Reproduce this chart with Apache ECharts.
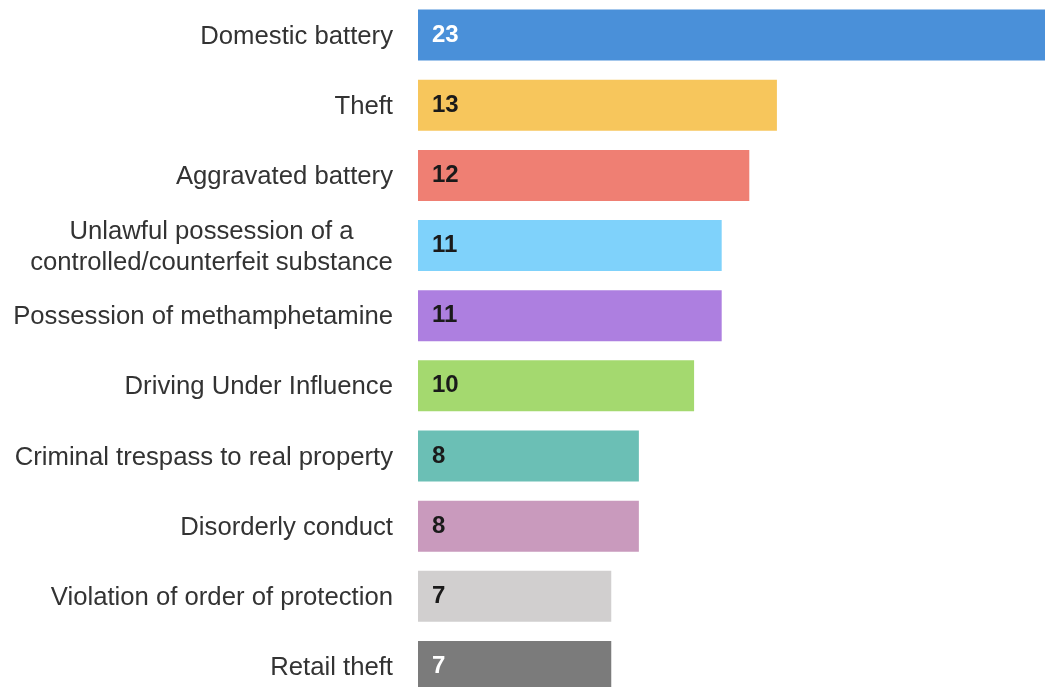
<!DOCTYPE html>
<html>
<head>
<meta charset="utf-8">
<script src="https://cdn.jsdelivr.net/npm/echarts@6/dist/echarts.min.js"></script>
<style>
html,body{margin:0;padding:0;background:#fff;}
#chart{width:1045px;height:687px;}
</style>
</head>
<body>
<div id="chart"></div>
<script>
const categories = [
  "Domestic battery",
  "Theft",
  "Aggravated battery",
  "Unlawful possession of a\ncontrolled/counterfeit substance",
  "Possession of methamphetamine",
  "Driving Under Influence",
  "Criminal trespass to real property",
  "Disorderly conduct",
  "Violation of order of protection",
  "Retail theft"
];
const values = [23, 13, 12, 11, 11, 10, 8, 8, 7, 7];
const barColors = ["#4a90d9", "#f7c65c", "#ef7f73", "#7fd2fb", "#ad7fe0", "#a4d96f", "#6bbfb5", "#c99abd", "#d1cfcf", "#7b7b7b"];
const labelColors = ["#ffffff", "#1a1a1a", "#1a1a1a", "#1a1a1a", "#1a1a1a", "#1a1a1a", "#1a1a1a", "#1a1a1a", "#1a1a1a", "#ffffff"];

const chart = echarts.init(document.getElementById('chart'), null, {renderer: 'canvas'});

const FONT = '"Liberation Sans", Arial, sans-serif';

const option = {
  animation: false,
  backgroundColor: '#ffffff',
  grid: {
    left: 418,
    right: -8,
    top: 0,
    bottom: -14.5,
    containLabel: false,
    outerBoundsMode: 'none'
  },
  xAxis: {
    type: 'value',
    min: 0,
    max: 23,
    show: false
  },
  yAxis: {
    type: 'category',
    inverse: true,
    data: categories,
    axisLine: {show: false},
    axisTick: {show: false},
    splitLine: {show: false},
    axisLabel: {
      margin: 25,
      align: 'right',
      color: '#333333',
      fontFamily: FONT,
      fontSize: 25.7,
      lineHeight: 31,
      padding: [3, 0, 0, 0],
      formatter: function (v) {
        if (v.indexOf('\n') >= 0) {
          return v.split('\n').map(function (s) { return '{c|' + s + '}'; }).join('\n');
        }
        return v;
      },
      rich: {
        c: {
          width: 363,
          align: 'center',
          fontSize: 25.7,
          lineHeight: 31,
          color: '#333333',
          fontFamily: FONT
        }
      }
    }
  },
  series: [{
    type: 'bar',
    barWidth: 51,
    clip: true,
    data: values.map(function (v, i) {
      return {
        value: v,
        itemStyle: {color: barColors[i]},
        label: {color: labelColors[i]}
      };
    }),
    label: {
      show: true,
      position: 'insideLeft',
      distance: 14,
      fontFamily: FONT,
      fontWeight: 'bold',
      fontSize: 24
    }
  }]
};
chart.setOption(option);
</script>
</body>
</html>
